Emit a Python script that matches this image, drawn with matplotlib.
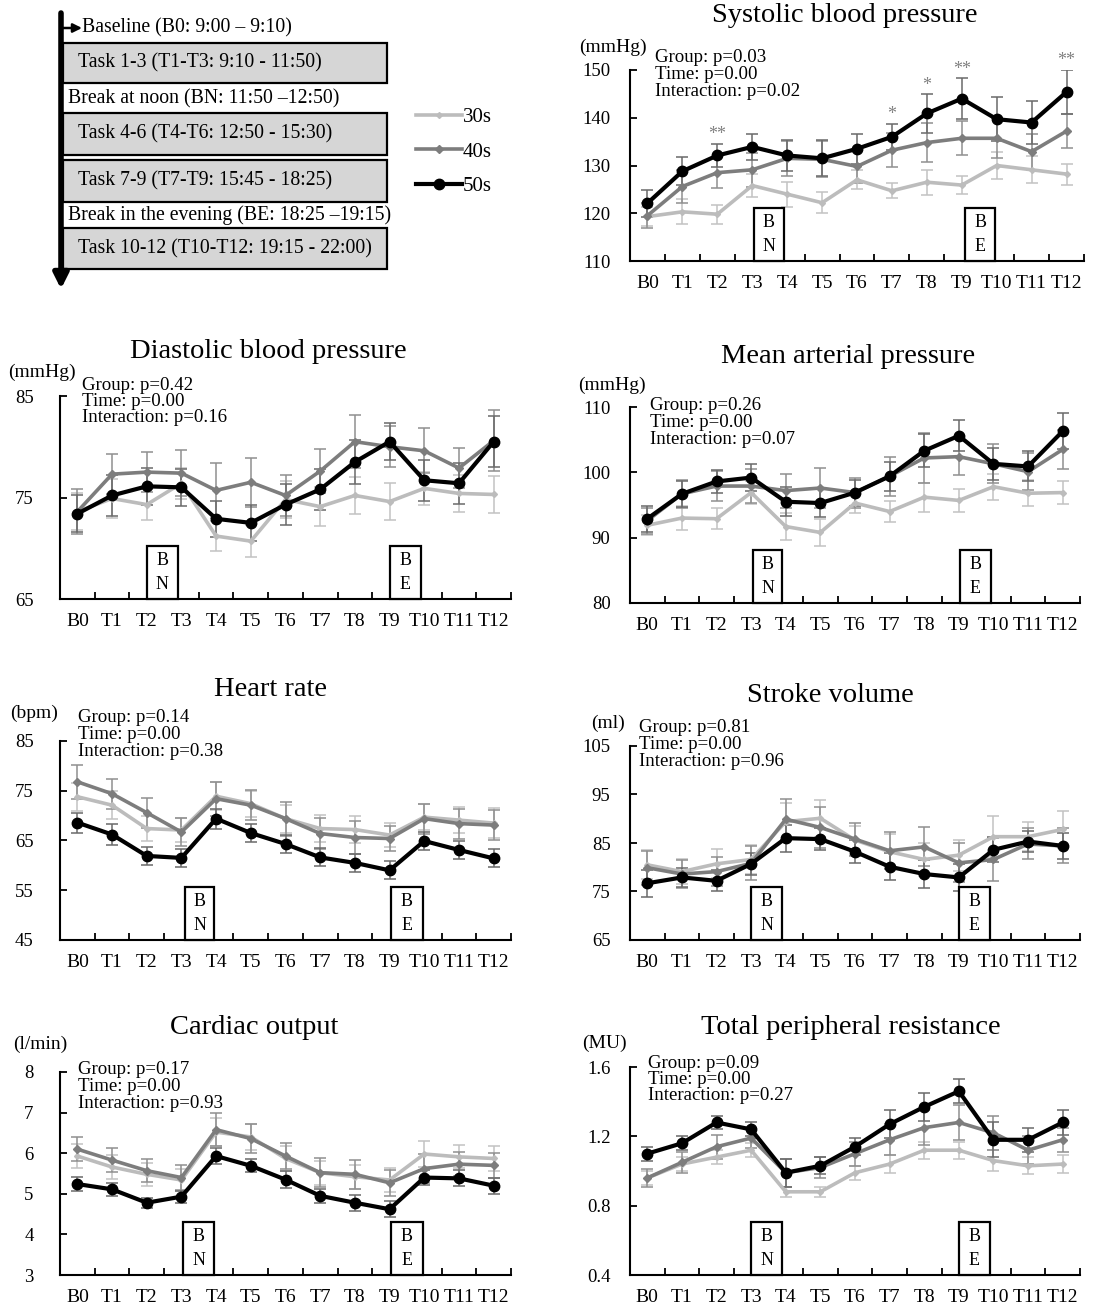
import numpy as np
import matplotlib
matplotlib.use("Agg")
import matplotlib.pyplot as plt
from matplotlib.patches import Rectangle
import matplotlib.transforms as mtransforms

plt.rcParams['font.family'] = ['Liberation Serif', 'DejaVu Serif']

W, H = 1102, 1305

time_points = ["B0", "T1", "T2", "T3", "T4", "T5", "T6",
               "T7", "T8", "T9", "T10", "T11", "T12"]
groups = ["30s", "40s", "50s"]

# ---- Systolic blood pressure (mmHg)
sbp_30 = [119.3, 120.3, 119.8, 125.8, 124.0, 122.2, 127.0, 124.7, 126.5, 125.9, 130.0, 129.1, 128.2]
sbp_40 = [119.5, 125.6, 128.5, 129.1, 131.5, 131.3, 129.8, 133.2, 134.8, 135.7, 135.7, 132.9, 137.2]
sbp_50 = [122.1, 128.8, 132.1, 133.9, 132.1, 131.5, 133.5, 136.0, 140.9, 144.0, 139.7, 139.0, 145.4]
sbp_se_30 = [2.0, 2.6, 2.0, 2.4, 2.6, 2.2, 2.0, 1.6, 2.6, 1.8, 2.8, 2.8, 2.2]
sbp_se_40 = [2.6, 3.4, 3.2, 3.6, 3.6, 3.8, 3.4, 3.6, 4.0, 3.6, 4.2, 3.8, 3.6]
sbp_se_50 = [2.8, 2.9, 2.5, 2.8, 3.2, 3.8, 3.2, 2.7, 4.0, 4.3, 4.6, 4.6, 4.7]
sbp_stars = {2: "**", 7: "*", 8: "*", 9: "**", 12: "**"}
sbp_p = [0.03, 0.00, 0.02]

# ---- Diastolic blood pressure (mmHg)
dbp_30 = [73.6, 74.9, 74.3, 76.4, 71.2, 70.7, 74.8, 74.1, 75.2, 74.6, 75.9, 75.4, 75.3]
dbp_40 = [73.6, 77.3, 77.5, 77.4, 75.7, 76.5, 75.2, 77.6, 80.5, 80.0, 79.6, 77.9, 80.6]
dbp_50 = [73.4, 75.2, 76.1, 76.0, 72.9, 72.5, 74.3, 75.8, 78.5, 80.5, 76.7, 76.4, 80.5]
dbp_se_30 = [1.8, 1.9, 1.5, 1.5, 1.5, 1.6, 1.8, 1.9, 1.8, 1.8, 1.6, 1.8, 1.8]
dbp_se_40 = [2.2, 2.0, 2.0, 2.3, 2.7, 2.4, 2.0, 2.2, 2.6, 2.0, 2.2, 2.0, 3.0]
dbp_se_50 = [1.8, 2.0, 1.8, 1.8, 1.8, 1.8, 2.0, 2.0, 2.2, 1.8, 2.0, 2.0, 2.5]
dbp_p = [0.42, 0.00, 0.16]

# ---- Mean arterial pressure (mmHg)
map_30 = [91.9, 93.0, 92.9, 96.9, 91.7, 90.8, 95.3, 94.0, 96.2, 95.7, 97.8, 96.8, 96.9]
map_40 = [92.6, 96.7, 97.9, 97.9, 97.2, 97.6, 96.9, 99.4, 102.2, 102.4, 101.3, 100.1, 103.5]
map_50 = [92.9, 96.7, 98.6, 99.2, 95.5, 95.3, 96.9, 99.4, 103.3, 105.6, 101.3, 100.9, 106.3]
map_se_30 = [1.5, 1.8, 1.6, 1.8, 2.0, 2.0, 1.5, 1.6, 2.2, 1.8, 2.0, 2.0, 1.8]
map_se_40 = [2.0, 2.2, 2.3, 2.6, 2.6, 3.0, 2.3, 3.0, 3.8, 2.8, 3.0, 2.8, 3.0]
map_se_50 = [2.0, 2.0, 1.8, 2.0, 2.2, 2.2, 2.0, 2.2, 2.5, 2.4, 2.4, 2.3, 2.8]
map_p = [0.26, 0.00, 0.07]

# ---- Heart rate (bpm)
hr_30 = [73.8, 72.1, 67.4, 67.1, 73.9, 72.4, 69.4, 67.4, 67.2, 66.1, 69.7, 69.1, 68.5]
hr_40 = [76.8, 74.4, 70.6, 66.7, 73.4, 72.1, 69.4, 66.4, 65.6, 65.4, 69.4, 68.4, 68.1]
hr_50 = [68.6, 66.2, 61.9, 61.5, 69.4, 66.5, 64.3, 61.6, 60.5, 59.0, 64.9, 63.1, 61.4]
hr_se_30 = [2.8, 2.8, 2.5, 2.4, 2.8, 2.6, 2.8, 2.8, 2.8, 2.4, 2.6, 2.6, 3.0]
hr_se_40 = [3.4, 3.0, 3.0, 2.8, 3.4, 3.0, 3.4, 3.2, 3.4, 2.6, 3.0, 3.0, 3.0]
hr_se_50 = [2.0, 2.2, 1.8, 1.8, 2.0, 1.8, 1.8, 1.8, 1.8, 1.8, 1.8, 1.8, 1.8]
hr_p = [0.14, 0.00, 0.38]

# ---- Stroke volume (ml)
sv_30 = [80.5, 79.1, 80.7, 81.6, 89.4, 90.1, 85.6, 83.2, 81.6, 82.5, 86.3, 86.3, 87.8]
sv_40 = [79.9, 78.6, 79.1, 80.8, 89.9, 88.2, 85.8, 83.4, 84.2, 80.9, 81.6, 84.8, 84.4]
sv_50 = [76.7, 77.9, 77.2, 80.7, 86.0, 85.8, 83.2, 80.1, 78.6, 77.9, 83.6, 85.3, 84.4]
sv_se_30 = [3.0, 2.6, 3.0, 3.0, 3.8, 3.8, 3.0, 3.6, 3.4, 3.2, 4.2, 3.0, 3.8]
sv_se_40 = [3.5, 2.8, 3.0, 3.5, 4.2, 4.2, 3.4, 3.8, 4.0, 4.0, 4.4, 3.2, 3.6]
sv_se_50 = [2.8, 2.0, 2.2, 2.2, 2.8, 2.2, 2.4, 2.8, 2.8, 2.8, 2.6, 2.2, 2.6]
sv_p = [0.81, 0.00, 0.96]

# ---- Cardiac output (l/min)
co_30 = [5.93, 5.66, 5.48, 5.34, 6.52, 6.40, 5.87, 5.52, 5.42, 5.34, 5.98, 5.91, 5.87]
co_40 = [6.10, 5.83, 5.57, 5.40, 6.58, 6.36, 5.93, 5.52, 5.48, 5.27, 5.62, 5.73, 5.70]
co_50 = [5.24, 5.11, 4.78, 4.93, 5.93, 5.69, 5.35, 4.95, 4.78, 4.62, 5.40, 5.38, 5.20]
co_se_30 = [0.30, 0.30, 0.28, 0.28, 0.35, 0.32, 0.30, 0.30, 0.30, 0.30, 0.32, 0.28, 0.30]
co_se_40 = [0.30, 0.30, 0.28, 0.30, 0.40, 0.35, 0.32, 0.35, 0.35, 0.32, 0.35, 0.30, 0.30]
co_se_50 = [0.18, 0.16, 0.12, 0.15, 0.20, 0.16, 0.20, 0.18, 0.20, 0.20, 0.18, 0.20, 0.20]
co_p = [0.17, 0.00, 0.93]

# ---- Total peripheral resistance (MU)
tpr_30 = [0.96, 1.04, 1.08, 1.12, 0.88, 0.88, 0.99, 1.04, 1.12, 1.12, 1.06, 1.03, 1.04]
tpr_40 = [0.96, 1.05, 1.14, 1.19, 0.99, 1.02, 1.10, 1.18, 1.25, 1.28, 1.22, 1.12, 1.18]
tpr_50 = [1.10, 1.16, 1.28, 1.24, 0.99, 1.03, 1.14, 1.27, 1.37, 1.46, 1.18, 1.18, 1.28]
tpr_se_30 = [0.04, 0.04, 0.04, 0.04, 0.03, 0.03, 0.04, 0.05, 0.05, 0.05, 0.06, 0.05, 0.05]
tpr_se_40 = [0.05, 0.06, 0.07, 0.06, 0.08, 0.06, 0.07, 0.09, 0.10, 0.10, 0.10, 0.08, 0.07]
tpr_se_50 = [0.04, 0.04, 0.04, 0.04, 0.08, 0.05, 0.05, 0.08, 0.08, 0.07, 0.10, 0.07, 0.07]
tpr_p = [0.09, 0.00, 0.27]

# Schedule of the experimental day
schedule_lines = ["Baseline (B0: 9:00 – 9:10)",
                  "Task 1-3 (T1-T3: 9:10 - 11:50)",
                  "Break at noon (BN: 11:50 –12:50)",
                  "Task 4-6 (T4-T6: 12:50 - 15:30)",
                  "Task 7-9 (T7-T9: 15:45 - 18:25)",
                  "Break in the evening (BE: 18:25 –19:15)",
                  "Task 10-12 (T10-T12: 19:15 - 22:00)"]

# Series appearance
styles = {
    "30s": dict(color="#bcbcbc", ecolor="#c2c2c2", lw=2.6, marker="D", ms=3.0),
    "40s": dict(color="#7d7d7d", ecolor="#8f8f8f", lw=2.6, marker="D", ms=4.0),
    "50s": dict(color="#000000", ecolor="#6a6a6a", lw=3.0, marker="o", ms=7.5),
}

# Panel layout in pixels: (left, top, right, bottom), title centre, unit centre,
# statistics text origin, noon-break box span, evening-break box span
panels = [
    dict(title="Systolic blood pressure", unit="(mmHg)",
         data=(sbp_30, sbp_40, sbp_50), se=(sbp_se_30, sbp_se_40, sbp_se_50), p=sbp_p,
         ylim=(110, 150), ystep=10, fmt="{:.0f}",
         rect=(630, 70, 1084, 261), tpos=(845, 15), upos=(613, 47), spos=(655, 58),
         bn=(3.05, 3.9), be=(9.1, 9.95), stars=sbp_stars),
    dict(title="Diastolic blood pressure", unit="(mmHg)",
         data=(dbp_30, dbp_40, dbp_50), se=(dbp_se_30, dbp_se_40, dbp_se_50), p=dbp_p,
         ylim=(65, 85), ystep=10, fmt="{:.0f}",
         rect=(60, 396, 511, 599), tpos=(268, 352), upos=(42, 372), spos=(82, 385),
         bn=(2.0, 2.9), be=(9.0, 9.9)),
    dict(title="Mean arterial pressure", unit="(mmHg)",
         data=(map_30, map_40, map_50), se=(map_se_30, map_se_40, map_se_50), p=map_p,
         ylim=(80, 110), ystep=10, fmt="{:.0f}",
         rect=(630, 407, 1080, 603), tpos=(848, 357), upos=(612, 385), spos=(650, 406),
         bn=(3.05, 3.9), be=(9.03, 9.93)),
    dict(title="Heart rate", unit="(bpm)",
         data=(hr_30, hr_40, hr_50), se=(hr_se_30, hr_se_40, hr_se_50), p=hr_p,
         ylim=(45, 85), ystep=10, fmt="{:.0f}",
         rect=(60, 741, 511, 940), tpos=(271, 690), upos=(34, 713), spos=(78, 718),
         bn=(3.1, 3.95), be=(9.05, 9.95)),
    dict(title="Stroke volume", unit="(ml)",
         data=(sv_30, sv_40, sv_50), se=(sv_se_30, sv_se_40, sv_se_50), p=sv_p,
         ylim=(65, 105), ystep=10, fmt="{:.0f}",
         rect=(630, 746, 1080, 940), tpos=(830, 695), upos=(608, 723), spos=(639, 728),
         bn=(3.0, 3.9), be=(9.0, 9.9)),
    dict(title="Cardiac output", unit="(l/min)",
         data=(co_30, co_40, co_50), se=(co_se_30, co_se_40, co_se_50), p=co_p,
         ylim=(3, 8), ystep=1, fmt="{:.0f}",
         rect=(60, 1072, 511, 1275), tpos=(254, 1028), upos=(40, 1044), spos=(78, 1070),
         bn=(3.05, 3.95), be=(9.05, 9.95)),
    dict(title="Total peripheral resistance", unit="(MU)",
         data=(tpr_30, tpr_40, tpr_50), se=(tpr_se_30, tpr_se_40, tpr_se_50), p=tpr_p,
         ylim=(0.4, 1.6), ystep=0.4, fmt="{:.1f}",
         rect=(630, 1067, 1080, 1275), tpos=(851, 1028), upos=(604, 1043), spos=(648, 1063),
         bn=(3.0, 3.9), be=(9.0, 9.9)),
]


def fx(x):
    return x / W


def fy(y):
    return 1 - y / H


fig = plt.figure(figsize=(W / 100, H / 100), dpi=100)
fig.patch.set_facecolor("white")

# ---------- schedule diagram (drawn in pixel units) ----------
ax0 = fig.add_axes([0, 0, 1, 1], zorder=0)
ax0.set_xlim(0, W)
ax0.set_ylim(H, 0)
ax0.axis("off")
ax0.patch.set_alpha(0)

box_rows = [(43, 83), (113, 155), (160, 202), (228, 269)]
for top, bot in box_rows:
    ax0.add_patch(Rectangle((63, top), 324, bot - top, facecolor="#d6d6d6",
                            edgecolor="black", lw=1.6))
ax0.annotate("", xy=(61, 289), xytext=(61, 13),
             arrowprops=dict(arrowstyle="-|>", lw=4.0, color="black",
                             mutation_scale=22, shrinkA=0, shrinkB=0))
ax0.annotate("", xy=(82, 28), xytext=(61, 28),
             arrowprops=dict(arrowstyle="-|>", lw=1.8, color="black",
                             mutation_scale=13, shrinkA=0, shrinkB=0))
text_rows = [(82, 28), (78, 63), (68, 99), (78, 134), (78, 181), (68, 215), (78, 249)]
for (tx, ty), s in zip(text_rows, schedule_lines):
    ax0.text(tx, ty, s, fontsize=14.2, va="center", ha="left")

# ---------- panels ----------
x = np.arange(len(time_points))
legend_handles = []
for k, pnl in enumerate(panels):
    l, t, r, b = pnl["rect"]
    ax = fig.add_axes([fx(l), fy(b), (r - l) / W, (b - t) / H], zorder=2)
    ax.patch.set_alpha(0)
    for g, m, e in zip(groups, pnl["data"], pnl["se"]):
        st = styles[g]
        ax.errorbar(x, m, yerr=e, fmt="none", ecolor=st["ecolor"], elinewidth=1.1,
                    capsize=4.5, capthick=1.1, zorder=2)
        ln, = ax.plot(x, m, color=st["color"], lw=st["lw"], marker=st["marker"],
                      ms=st["ms"], mfc=st["color"], mec=st["color"], zorder=3,
                      solid_joinstyle="miter", label=g)
        if k == 0:
            legend_handles.append(ln)

    y0, y1 = pnl["ylim"]
    ax.set_xlim(-0.5, 12.5)
    ax.set_ylim(y0, y1)
    yt = np.arange(y0, y1 + pnl["ystep"] / 2, pnl["ystep"])
    ax.set_yticks(yt)
    ax.set_yticklabels([pnl["fmt"].format(v) for v in yt])
    ax.set_xticks(x)
    ax.set_xticklabels(time_points)
    ax.set_xticks(np.arange(0.5, 13, 1), minor=True)
    ax.tick_params(axis="x", which="major", length=0, pad=10, labelsize=14)
    ax.tick_params(axis="x", which="minor", direction="in", length=5, width=1.3)
    left_col = l < 300
    ax.tick_params(axis="y", direction="in", length=5, width=1.3,
                   pad=19 if left_col else 14, labelsize=13.5)
    for s in ("top", "right"):
        ax.spines[s].set_visible(False)
    for s in ("left", "bottom"):
        ax.spines[s].set_linewidth(1.5)

    # break markers
    trans = mtransforms.blended_transform_factory(ax.transData, ax.transAxes)
    box_h = 53 / (b - t)
    for (xa, xb), letters in ((pnl["bn"], "BN"), (pnl["be"], "BE")):
        ax.add_patch(Rectangle((xa, 0), xb - xa, box_h, transform=trans,
                               facecolor="white", edgecolor="black", lw=1.6,
                               zorder=4, clip_on=False))
        xc = (xa + xb) / 2
        ax.text(xc, box_h * 0.72, letters[0], transform=trans, ha="center",
                va="center", fontsize=13, zorder=5)
        ax.text(xc, box_h * 0.27, letters[1], transform=trans, ha="center",
                va="center", fontsize=13, zorder=5)

    # significance marks
    if "stars" in pnl:
        m50 = np.array(pnl["data"][2])
        e50 = np.array(pnl["se"][2])
        for i, s in pnl["stars"].items():
            ax.annotate(s, xy=(i, m50[i] + e50[i]), xytext=(0, 9),
                        textcoords="offset pixels", ha="center", va="center",
                        fontsize=13, color="#808080", annotation_clip=False)

    # text around the axes
    fig.text(fx(pnl["tpos"][0]), fy(pnl["tpos"][1]), pnl["title"], fontsize=20.5,
             ha="center", va="center")
    fig.text(fx(pnl["upos"][0]), fy(pnl["upos"][1]), pnl["unit"], fontsize=14,
             ha="center", va="center")
    sx, sy = pnl["spos"]
    stat_lines = ["Group: p={:.2f}".format(pnl["p"][0]),
                  "Time: p={:.2f}".format(pnl["p"][1]),
                  "Interaction: p={:.2f}".format(pnl["p"][2])]
    for j, s in enumerate(stat_lines):
        fig.text(fx(sx), fy(sy + 16.5 * j), s, fontsize=13.6, ha="left", va="center")

fig.legend(legend_handles, groups, loc="center left",
           bbox_to_anchor=(fx(416), fy(152)), frameon=False, fontsize=15,
           handlelength=2.2, handletextpad=0.05, labelspacing=0.72,
           borderaxespad=0, borderpad=0)

fig.savefig("out.png", dpi=100, facecolor="white")
